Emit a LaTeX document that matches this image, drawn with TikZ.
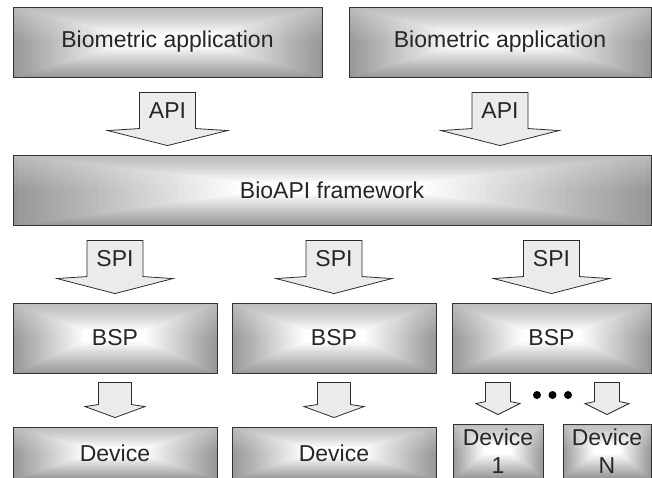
\documentclass[tikz,border=0pt]{standalone}
\usepackage{fontspec}
\setmainfont{Liberation Sans}
\usetikzlibrary{calc,backgrounds,fadings}

\tikzset{
  layer/.style={draw=gray!40!black, line width=0.9pt,
    font=\fontsize{23}{28}\selectfont, text=black!85, inner sep=0pt, align=center},
  iface/.style={draw=gray!35!black, line width=0.8pt, fill=gray!16, line join=miter},
  iftext/.style={font=\fontsize{23}{27}\selectfont, text=black!85, inner sep=0pt},
  dot/.style={fill=black, draw=none, circle, minimum size=8pt, inner sep=0pt},
}

% pillow-like rectangular gradient behind a layer box
\newcommand{\glow}[1]{%
  \foreach \i in {0,...,39}{%
    \pgfmathtruncatemacro{\shade}{82-2.07*\i}%
    \fill[gray!\shade] let \p1=(#1.north west), \p2=(#1.south east), \n1={\i/40} in
      ({\x1+\n1*0.36*(\x2-\x1)},{\y1-\n1*0.40*(\y1-\y2)}) rectangle
      ({\x2-\n1*0.36*(\x2-\x1)},{\y2+\n1*0.46*(\y1-\y2)});
  }%
  \fill[white, fill opacity=0.35, path fading=south] let \p1=(#1.north west), \p2=(#1.south east) in
    (\x1,\y1) rectangle (\x2,{0.5*(\y1+\y2)});
}

% block arrow: #1 label name, #2 column node, #3 from, #4 to,
% #5 half shaft width, #6 half head width, #7 head length, #8 label text, #9 gap below source
\newcommand{\blockarrow}[9]{%
  \draw[iface] let \p1=(#2.center), \p2=(#3.south), \p3=(#4.north) in
    (\x1-#5,\y2-#9) -- (\x1-#5,\y3+11pt+#7) -- (\x1-#6,\y3+9pt+#7)
    -- (\x1,\y3+9pt) -- (\x1+#6,\y3+9pt+#7) -- (\x1+#5,\y3+11pt+#7)
    -- (\x1+#5,\y2-#9) -- cycle
    ({\x1},{(\y2-#9+\y3+11pt+#7)/2}) node[iftext] (#1) {#8};
}

\begin{document}
\begin{tikzpicture}[x=1pt, y=-1pt]
\useasboundingbox (0,0) rectangle (652,477);

% applications
\node[layer, minimum width=309pt, minimum height=70pt] (app1) at (167.5,42) {Biometric application};
\node[layer, minimum width=302pt, minimum height=70pt] (app2) at (500,42) {Biometric application};

% framework
\node[layer, minimum width=638pt, minimum height=70pt] (fw) at (332,190) {BioAPI framework};

% service providers
\node[layer, minimum width=204pt, minimum height=70pt] (bsp1) at (115,338) {BSP};
\node[layer, minimum width=204pt, minimum height=70pt] (bsp2) at (334,338) {BSP};
\node[layer, minimum width=199pt, minimum height=70pt] (bsp3) at (551.5,338) {BSP};

% devices
\node[layer, minimum width=204pt, minimum height=52pt] (dev1) at (115,453) {Device};
\node[layer, minimum width=204pt, minimum height=52pt] (dev2) at (334,453) {Device};
\node[layer, minimum width=90pt, minimum height=54pt] (dev3) at (498,451) {Device\\1};
\node[layer, minimum width=88pt, minimum height=54pt] (dev4) at (607,451) {Device\\N};

\begin{scope}[on background layer]
  \glow{app1} \glow{app2} \glow{fw}
  \glow{bsp1} \glow{bsp2} \glow{bsp3}
  \glow{dev1} \glow{dev2} \glow{dev3} \glow{dev4}
\end{scope}

% interfaces
\blockarrow{api1}{app1}{app1}{fw}{28pt}{60pt}{15pt}{API}{15pt}
\blockarrow{api2}{app2}{app2}{fw}{28pt}{59pt}{15pt}{API}{15pt}
\blockarrow{spi1}{bsp1}{fw}{bsp1}{28pt}{58pt}{15pt}{SPI}{15pt}
\blockarrow{spi2}{bsp2}{fw}{bsp2}{28pt}{58pt}{15pt}{SPI}{15pt}
\blockarrow{spi3}{bsp3}{fw}{bsp3}{28pt}{58pt}{15pt}{SPI}{15pt}
\blockarrow{dl1}{dev1}{bsp1}{dev1}{16.5pt}{30pt}{11pt}{}{9pt}
\blockarrow{dl2}{dev2}{bsp2}{dev2}{16.5pt}{30pt}{11pt}{}{9pt}
\blockarrow{dl3}{dev3}{bsp3}{dev3}{12.5pt}{22pt}{11pt}{}{9pt}
\blockarrow{dl4}{dev4}{bsp3}{dev4}{12.5pt}{22pt}{11pt}{}{9pt}

% ellipsis between device arrows
\node[dot] (d1) at (537,395) {};
\node[dot] (d2) at (552.5,395) {};
\node[dot] (d3) at (568,395) {};
\end{tikzpicture}
\end{document}
